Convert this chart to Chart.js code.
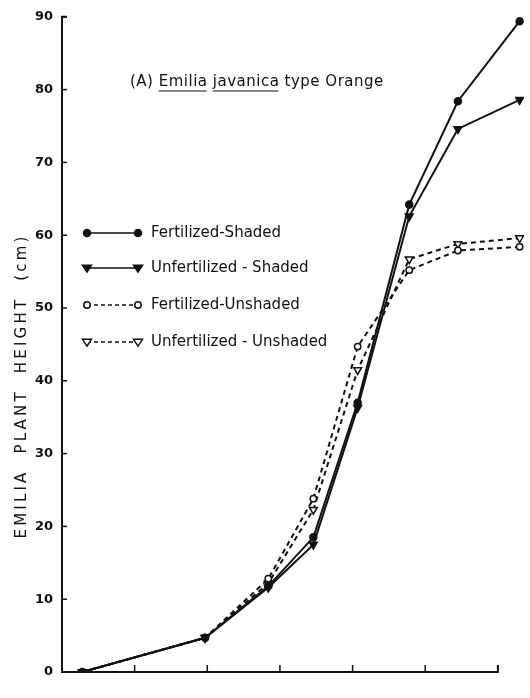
<!DOCTYPE html>
<html>
<head>
<meta charset="utf-8">
<script src="https://cdn.jsdelivr.net/npm/chart.js@4/dist/chart.umd.min.js"></script>
<style>
  html, body { margin: 0; padding: 0; background: #fff; }
  #wrap { width: 530px; height: 698px; position: relative; }
</style>
</head>
<body>
<div id="wrap"><canvas id="plot"></canvas></div>
<script>
// sampling times (unlabelled x axis, one tick per unit)
const times = [0.28, 1.97, 2.84, 3.46, 4.07, 4.78, 5.45, 6.3];

// plant height (cm) per treatment
const fertShaded     = [0, 4.7, 11.8, 18.5, 37.0, 64.2, 78.4, 89.4];
const unfertShaded   = [0, 4.7, 11.6, 17.5, 36.3, 62.6, 74.6, 78.6];
const fertUnshaded   = [0, 4.7, 12.8, 23.8, 44.7, 55.2, 57.9, 58.4];
const unfertUnshaded = [0, 4.7, 12.2, 22.3, 41.5, 56.7, 58.8, 59.6];

const seriesNames = ['Fertilized-Shaded', 'Unfertilized - Shaded', 'Fertilized-Unshaded', 'Unfertilized - Unshaded'];
const yTicks = [0, 10, 20, 30, 40, 50, 60, 70, 80, 90];
const xTicks = [1, 2, 3, 4, 5, 6];

const INK = '#111';
const FONT = '"DejaVu Sans", sans-serif';

function pts(vals){
  return vals.map((v, i) => ({ x: times[i], y: v }));
}

// marker look per series
const styles = [
  { style: 'circle',   fill: INK,    r: 3.5, rot: 0,   dash: [] },
  { style: 'triangle', fill: INK,    r: 4.5, rot: 180, dash: [] },
  { style: 'circle',   fill: '#fff', r: 3.2, rot: 0,   dash: [5, 4] },
  { style: 'triangle', fill: '#fff', r: 4.5, rot: 180, dash: [5, 4] },
];

const datasets = [fertShaded, unfertShaded, fertUnshaded, unfertUnshaded].map((vals, i) => ({
  label: seriesNames[i],
  data: pts(vals),
  borderColor: INK,
  borderWidth: 2,
  borderDash: styles[i].dash,
  pointStyle: styles[i].style,
  pointRadius: styles[i].r,
  pointRotation: styles[i].rot,
  pointBackgroundColor: styles[i].fill,
  pointBorderColor: INK,
  pointBorderWidth: 1.5,
  tension: 0,
  fill: false,
}));

// axes, inward ticks, legend and titles drawn on top of the scales
const decor = {
  id: 'decor',
  afterDraw(chart){
    const c = chart.ctx;
    const xs = chart.scales.x, ys = chart.scales.y;
    const x0 = xs.getPixelForValue(0), x6 = xs.getPixelForValue(6);
    const yb = ys.getPixelForValue(0), yt = ys.getPixelForValue(90);
    c.save();
    c.strokeStyle = INK;
    c.lineWidth = 2;
    c.setLineDash([]);
    // axis lines
    c.beginPath();
    c.moveTo(x0 + 5, yt); c.lineTo(x0, yt); c.lineTo(x0, yb); c.lineTo(x6, yb); c.lineTo(x6, yb - 7);
    c.stroke();
    c.lineWidth = 1.5;
    yTicks.forEach(v => {
      const y = ys.getPixelForValue(v);
      c.beginPath(); c.moveTo(x0, y); c.lineTo(x0 + 5, y); c.stroke();
    });
    xTicks.forEach(v => {
      const x = xs.getPixelForValue(v);
      c.beginPath(); c.moveTo(x, yb); c.lineTo(x, yb - 7); c.stroke();
    });

    // y title
    c.fillStyle = INK;
    c.font = '15px ' + FONT;
    c.letterSpacing = '3.2px';
    c.textAlign = 'center';
    c.textBaseline = 'middle';
    c.save();
    c.translate(22, 386);
    c.rotate(-Math.PI / 2);
    c.fillText('EMILIA  PLANT  HEIGHT  (cm)', 0, 0);
    c.restore();

    // panel title with underlined species name
    c.font = '15px ' + FONT;
    c.letterSpacing = '0.5px';
    c.textAlign = 'left';
    c.textBaseline = 'alphabetic';
    const parts = [['(A) ', false], ['Emilia', true], [' ', false], ['javanica', true], [' type Orange', false]];
    let tx = 130;
    const ty = 86;
    parts.forEach(([s, ul]) => {
      c.fillText(s, tx, ty);
      const w = c.measureText(s).width;
      if(ul){
        c.lineWidth = 1.2;
        c.beginPath(); c.moveTo(tx, ty + 5); c.lineTo(tx + w - 1, ty + 5); c.stroke();
      }
      tx += w;
    });

    // legend
    const rows = [233, 268, 305, 342];
    c.font = '15px ' + FONT;
    c.letterSpacing = '0px';
    c.textBaseline = 'middle';
    rows.forEach((ry, i) => {
      const st = styles[i];
      c.strokeStyle = INK;
      c.lineWidth = 1.5;
      c.setLineDash(st.dash.length ? [4, 3] : []);
      c.beginPath(); c.moveTo(87, ry); c.lineTo(138, ry); c.stroke();
      c.setLineDash([]);
      [87, 138].forEach(mx => {
        c.fillStyle = st.fill;
        c.lineWidth = 1.5;
        c.beginPath();
        if(st.style === 'circle'){
          c.arc(mx, ry, st.r, 0, Math.PI * 2);
        } else {
          c.moveTo(mx - st.r, ry - st.r * 0.6);
          c.lineTo(mx + st.r, ry - st.r * 0.6);
          c.lineTo(mx, ry + st.r * 0.9);
          c.closePath();
        }
        c.fill(); c.stroke();
      });
      c.fillStyle = INK;
      c.fillText(seriesNames[i], 151, ry);
    });
    c.restore();
  }
};

new Chart(document.getElementById('plot'), {
  type: 'line',
  data: { datasets },
  options: {
    responsive: true,
    maintainAspectRatio: false,
    animation: false,
    layout: { padding: { top: 13, right: 6, bottom: 0, left: 0 } },
    plugins: { legend: { display: false }, tooltip: { enabled: false } },
    scales: {
      x: {
        type: 'linear', min: 0, max: 6.36,
        grid: { display: false },
        border: { display: false },
        ticks: { display: false, stepSize: 1 },
        afterFit(s){ s.height = 26; }
      },
      y: {
        min: 0, max: 90,
        grid: { display: false, drawTicks: false },
        border: { display: false },
        ticks: {
          stepSize: 10, padding: 9, color: INK,
          font: { family: FONT, size: 13, weight: 'bold' }
        },
        afterFit(s){ s.width = 62; }
      }
    }
  },
  plugins: [decor]
});
</script>
</body>
</html>
